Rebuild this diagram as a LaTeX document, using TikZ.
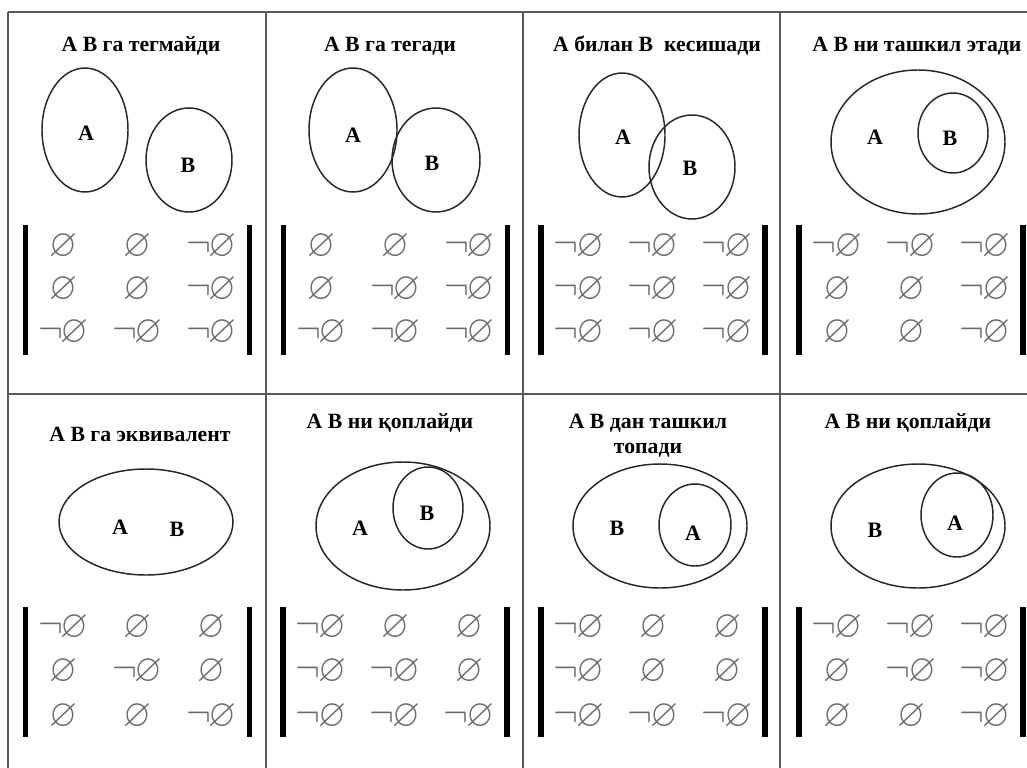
\documentclass[tikz,border=0pt]{standalone}
\usepackage{amssymb}
\usepackage{fontspec}
\setmainfont{Liberation Serif}
\tikzset{
  gridline/.style={draw=black!65, line width=0.8pt},
  setline/.style={draw=black!85, line width=1.1pt},
  ttl/.style={font=\bfseries\fontsize{16.3}{18}\selectfont, anchor=base, inner sep=0pt},
  lbl/.style={font=\bfseries\fontsize{16.5}{18}\selectfont, inner sep=0pt},
  ent/.style={font=\fontsize{24}{28}\selectfont, text=black!58, inner sep=0pt},
  matbar/.style={line width=3.8pt, draw=black},
}
\newcommand{\emptyent}{\scalebox{1.12}[1.22]{$\varnothing$}}
\newcommand{\notemptyent}{\scalebox{1.12}[1.22]{$\neg\mkern-1mu\varnothing$}}
% #1 name, #2 centre x, #3 centre y, #4 row step, #5 entries (0 = empty, 1 = not empty)
\newcommand{\emat}[5]{%
  \draw[matbar] (#2-112,#3-65) -- (#2-112,#3+65);
  \draw[matbar] (#2+112,#3-65) -- (#2+112,#3+65);
  \foreach \v [count=\i from 0] in {#5} {
    \pgfmathtruncatemacro\rr{div(\i,3)}
    \pgfmathtruncatemacro\cc{mod(\i,3)}
    \node[ent] (#1-\rr\cc) at ({#2+(\cc-1)*74},{#3+(\rr-1)*#4})
      {\ifnum\v=1 \notemptyent\else \emptyent\fi};
  }%
}
\begin{document}
\begin{tikzpicture}[x=0.75pt,y=-0.75pt]
\useasboundingbox (0,0) rectangle (1027,767);
\begin{scope}
\clip (0,0) rectangle (1027,767);
% grid
\draw[gridline] (8,12) -- (1040,12);
\draw[gridline] (8,394) -- (1040,394);
\foreach \gx in {8,266,523,780} \draw[gridline] (\gx,12) -- (\gx,780);
\end{scope}

% ---------- cell 1
\node[ttl] (t1) at (141,51) {A B га тегмайди};
\draw[setline] (85,130) ellipse [x radius=43, y radius=62];
\draw[setline] (189,160) ellipse [x radius=43, y radius=52];
\node[lbl] (a1) at (86,133) {A};
\node[lbl] (b1) at (188,165) {B};
\emat{m1}{137.5}{290}{43}{0,0,1,0,0,1,1,1,1}

% ---------- cell 2
\node[ttl] (t2) at (390,51) {A B га тегади};
\draw[setline] (353,130) ellipse [x radius=44, y radius=62];
\draw[setline] (436,160) ellipse [x radius=44, y radius=52];
\node[lbl] (a2) at (353,135) {A};
\node[lbl] (b2) at (432,163) {B};
\emat{m2}{395.5}{290}{43}{0,0,1,0,1,1,1,1,1}

% ---------- cell 3
\node[ttl] (t3) at (657,51) {A билан B\ \ кесишади};
\draw[setline] (622,135) ellipse [x radius=43, y radius=62];
\draw[setline] (692,167) ellipse [x radius=43, y radius=52];
\node[lbl] (a3) at (623,137) {A};
\node[lbl] (b3) at (690,168) {B};
\emat{m3}{653}{290}{43}{1,1,1,1,1,1,1,1,1}

% ---------- cell 4
\node[ttl] (t4) at (917,51) {A B ни ташкил этади};
\draw[setline] (918,142) ellipse [x radius=87, y radius=72];
\draw[setline] (953,133) ellipse [x radius=35, y radius=40];
\node[lbl] (a4) at (875,137) {A};
\node[lbl] (b4) at (950,138) {B};
\emat{m4}{911}{290}{43}{1,1,1,0,0,1,0,0,1}

% ---------- cell 5
\node[ttl] (t5) at (140,441) {A B га эквивалент};
\draw[setline] (146,522) ellipse [x radius=87, y radius=53];
\node[lbl] (a5) at (120,527) {A};
\node[lbl] (b5) at (177,529) {B};
\emat{m5}{137.5}{672}{44.5}{1,0,0,0,1,0,0,0,1}

% ---------- cell 6
\node[ttl] (t6) at (390,428) {A B ни қоплайди};
\draw[setline] (403,526) ellipse [x radius=87, y radius=64];
\draw[setline] (428,508) ellipse [x radius=35, y radius=41];
\node[lbl] (a6) at (360,528) {A};
\node[lbl] (b6) at (427,513) {B};
\emat{m6}{395}{672}{44.5}{1,0,0,1,1,0,1,1,1}

% ---------- cell 7
\node[ttl] (t7) at (648,428) {A B дан ташкил};
\node[ttl] (t7b) at (648,453) {топади};
\draw[setline] (660,526) ellipse [x radius=87, y radius=62];
\draw[setline] (695,525) ellipse [x radius=36, y radius=41];
\node[lbl] (b7) at (617,528) {B};
\node[lbl] (a7) at (693,533) {A};
\emat{m7}{653}{672}{44.5}{1,0,0,1,0,0,1,1,1}

% ---------- cell 8
\node[ttl] (t8) at (908,428) {A B ни қоплайди};
\draw[setline] (918,526) ellipse [x radius=87, y radius=62];
\draw[setline] (957,515) ellipse [x radius=36, y radius=42];
\node[lbl] (b8) at (875,530) {B};
\node[lbl] (a8) at (955,523) {A};
\emat{m8}{911}{672}{44.5}{1,1,1,0,1,1,0,0,1}
\end{tikzpicture}
\end{document}
